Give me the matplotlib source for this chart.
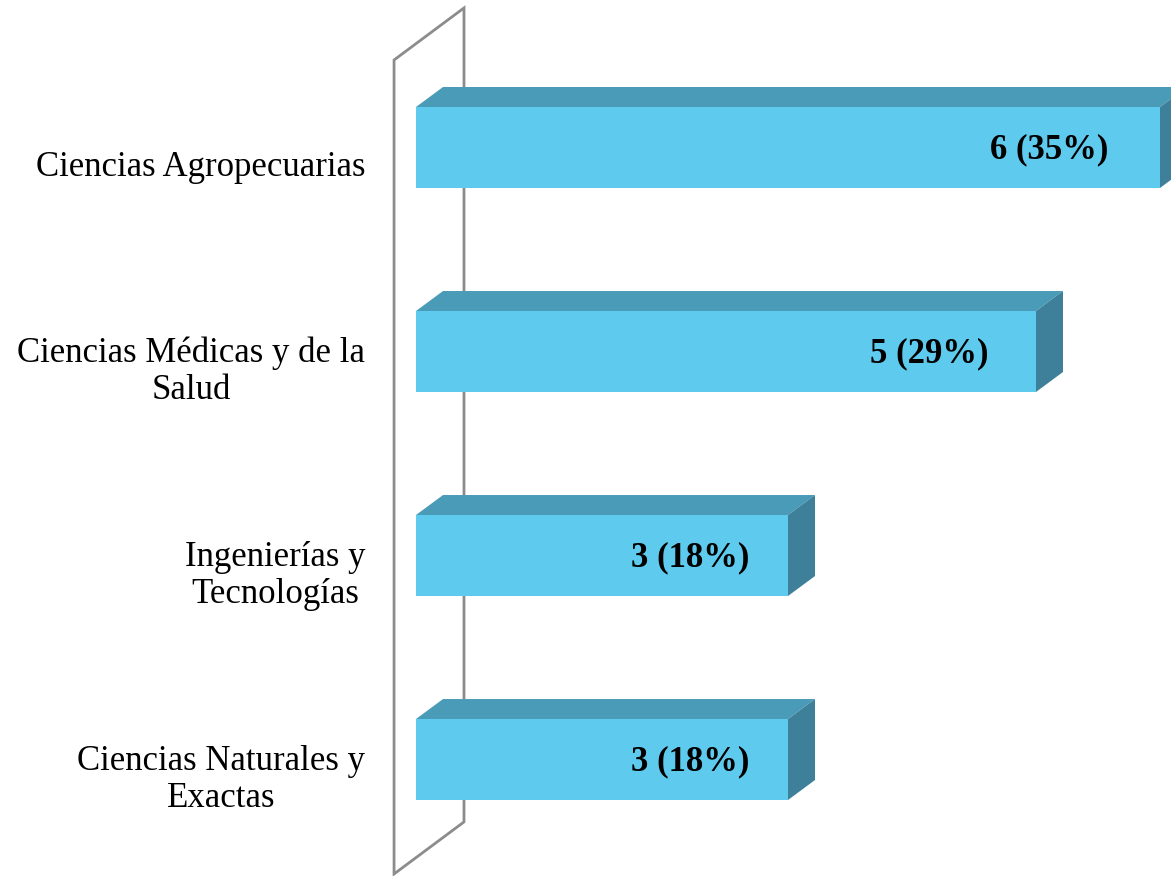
import matplotlib
matplotlib.use("Agg")
import matplotlib.pyplot as plt
from matplotlib.patches import Polygon

# Données
categorias = ["Ciencias Agropecuarias",
              "Ciencias Médicas y de la\nSalud",
              "Ingenierías y\nTecnologías",
              "Ciencias Naturales y\nExactas"]
valores = [6, 5, 3, 3]
porcentajes = [35, 29, 18, 18]

color_frente = "#5ECBEE"
color_techo = "#4A9BB8"
color_lado = "#3E8099"
color_pared = "#8C8C8C"

fig = plt.figure(figsize=(11.71, 8.76), dpi=100)
ax = fig.add_axes([0, 0, 1, 1])
ax.set_xlim(-3.355, 6.089)
ax.set_ylim(3.571, -0.723)
ax.axis("off")

# Profundidad (efecto 3D) en unidades de datos
dx, dy = 0.218, -0.098
alto = 0.397

# Pared lateral
wx0, wx1 = -0.177, 0.387
wy_top, wy_bot = -0.429, 3.561
wdy = -0.255
ax.add_patch(Polygon([(wx0, wy_top), (wx1, wy_top + wdy), (wx1, wy_bot + wdy),
                      (wx0, wy_bot)], closed=True, fill=False,
                     edgecolor=color_pared, lw=2, zorder=1))

for i, (cat, v, p) in enumerate(zip(categorias, valores, porcentajes)):
    y0, y1 = i - alto / 2, i + alto / 2
    # techo
    ax.add_patch(Polygon([(0, y0), (dx, y0 + dy), (v + dx, y0 + dy), (v, y0)],
                         closed=True, facecolor=color_techo, edgecolor="none", zorder=2))
    # lado
    ax.add_patch(Polygon([(v, y0), (v + dx, y0 + dy), (v + dx, y1 + dy), (v, y1)],
                         closed=True, facecolor=color_lado, edgecolor="none", zorder=2))
    # frente
    ax.add_patch(Polygon([(0, y0), (v, y0), (v, y1), (0, y1)],
                         closed=True, facecolor=color_frente, edgecolor="none", zorder=3))
    ax.text(0.965 * v - 0.685, i + 0.01, f"{v} ({p}%)", ha="center", va="center",
            fontsize=25, fontweight="bold", family="Liberation Serif", zorder=4)
    ax.text(-0.41, i + 0.1, cat, ha="right", va="center", multialignment="center",
            fontsize=25, family="Liberation Serif", linespacing=1.15)

fig.savefig("out.png", dpi=100)
